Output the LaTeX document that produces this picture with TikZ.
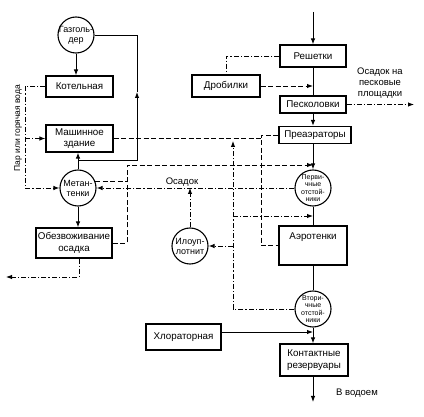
\documentclass[tikz,border=0pt]{standalone}
\usepackage{fontspec}
\setmainfont{Liberation Sans}
\usetikzlibrary{arrows.meta,positioning}

\begin{document}
\begin{tikzpicture}[x=1pt, y=-1pt, line width=0.95pt,
	>={Latex[length=6pt,width=4.5pt]},
	blok/.style={rectangle,draw=black,line width=1.1pt,align=center,inner sep=1pt,font=\fontsize{9.8}{11.5}\selectfont},
	krug/.style={circle,draw=black,line width=1.1pt,minimum size=36pt,inner sep=-5pt,align=center,font=\fontsize{9}{10}\selectfont},
	melkij/.style={font=\fontsize{7}{7.6}\selectfont},
	shtrih/.style={dash pattern=on 5pt off 2.5pt},
	shtrihpunkt/.style={dash pattern=on 5pt off 2pt on 1.2pt off 2pt},
	nadpis/.style={align=center,font=\fontsize{9.5}{11}\selectfont}]
	\useasboundingbox (0,0) rectangle (424,417);
	% left column
	\node[krug] (gazgold) at (76,35) {Газголь-\\дер};
	\node[blok, minimum width=67pt, minimum height=21pt] (kotel) at (79.5,86.5) {Котельная};
	\node[blok, minimum width=67pt, minimum height=27pt] (mashzd) at (79.5,138.5) {Машинное\\здание};
	\node[krug] (metan) at (78,188) {Метан-\\тенки};
	\node[blok, minimum width=76pt, minimum height=30pt] (obezv) at (74,243) {Обезвоживание\\осадка};
	\node[krug] (iloupl) at (190,246) {Илоуп-\\лотнит};
	% right column
	\node[blok, minimum width=66pt, minimum height=22pt] (reshet) at (313,56) {Решетки};
	\node[blok, minimum width=68pt, minimum height=22pt] (drob) at (226,86) {Дробилки};
	\node[blok, minimum width=66pt, minimum height=17pt] (peskol) at (313,104.5) {Песколовки};
	\node[blok, minimum width=72pt, minimum height=17pt] (preaer) at (315,135) {Преаэраторы};
	\node[krug, melkij] (perv) at (313,188) {Перви-\\чные\\отстой-\\ники};
	\node[blok, minimum width=68pt, text height=13pt, text depth=24pt] (aerot) at (313,245.5) {Аэротенки};
	\node[krug, melkij] (vtor) at (313,309) {Втори-\\чные\\отстой-\\ники};
	\node[blok, minimum width=75pt, minimum height=26pt] (hlor) at (183.5,337) {Хлораторная};
	\node[blok, minimum width=68pt, minimum height=32pt] (kontakt) at (314,360) {Контактные\\резервуары};
	% labels
	\node[nadpis] (osadokpesok) at (380,83) {Осадок на\\песковые\\площадки};
	\node[nadpis] (osadok) at (182,182) {Осадок};
	\node[nadpis] (vodoem) at (357,393) {В водоем};
	\node[nadpis, rotate=90, font=\fontsize{8.5}{10}\selectfont] (par) at (18,128) {Пар или горячая вода};
	% free ends and corners
	\coordinate (vhod) at (313,12);
	\coordinate (pesok) at (414,104.5);
	\coordinate (stok) at (313,402);
	\coordinate (kek) at (6,277);
	\coordinate (parlin) at (25,0);
	\coordinate (gazlin) at (137,160);
	\coordinate (gazstrel) at (137,92);
	\coordinate (filtr) at (127,165);
	\coordinate (vozduh) at (261,138.5);
	\coordinate (ilrec) at (233,141);
	\coordinate (vozvrat) at (313,216);
	\coordinate (hlorvyh) at ([yshift=5pt]hlor.east);
	% water line
	\draw[->] (vhod) -- (reshet);
	\draw (reshet) -- (peskol);
	\draw[->] (peskol) -- (peskol |- preaer.north);
	\draw[->] (peskol |- preaer.south) -- (perv);
	\draw (perv) -- (aerot);
	\draw (aerot) -- (vtor);
	\draw[->] (vtor) -- (vtor |- kontakt.north);
	\draw[->] (vtor |- kontakt.south) -- (stok);
	\draw[->] (hlorvyh) -- (hlorvyh -| vtor.south);
	\draw[shtrihpunkt] (reshet.west) -| (drob.north);
	\draw[shtrih,->] (drob.east) -- (drob.east -| reshet.south);
	\draw[shtrihpunkt,->] (peskol.east) -- (pesok);
	% sludge and gas
	\draw[->] (gazgold.south) -- (gazgold.south |- kotel.north);
	\draw[->] (metan.north) -- (metan.north |- mashzd.south);
	\draw[->] (metan.south) -- (metan.south |- obezv.north);
	\draw[->] (metan.north |- gazlin) -| (gazstrel);
	\draw (gazstrel) |- (gazgold.east);
	\draw[shtrihpunkt,->] (kotel.west) -| (parlin |- metan.west) -- (metan.west);
	\draw[shtrihpunkt,->] (parlin |- mashzd.west) -- (mashzd.west);
	\draw[shtrihpunkt,->] ([xshift=5pt]obezv.south) |- (kek);
	\draw[shtrih,->] (obezv.east) -| (filtr) -- (filtr -| perv.north);
	\draw[shtrih] (metan.20) -- (metan.20 -| filtr);
	\draw[shtrihpunkt,->] (perv.west) -- (metan.east);
	\draw[shtrihpunkt,->] (iloupl.north) -- (iloupl.north |- metan.east);
	\draw[shtrihpunkt,->] (vtor.west) -| (ilrec);
	\draw[shtrihpunkt,->] (ilrec |- iloupl.east) -- (iloupl.east);
	\draw[shtrihpunkt,->] (ilrec |- vozvrat) -- (vozvrat);
	% air
	\draw[shtrih] (mashzd.east) -- (vozduh);
	\draw[shtrih] (preaer.west) -| (vozduh) |- (aerot.west);
\end{tikzpicture}
\end{document}
